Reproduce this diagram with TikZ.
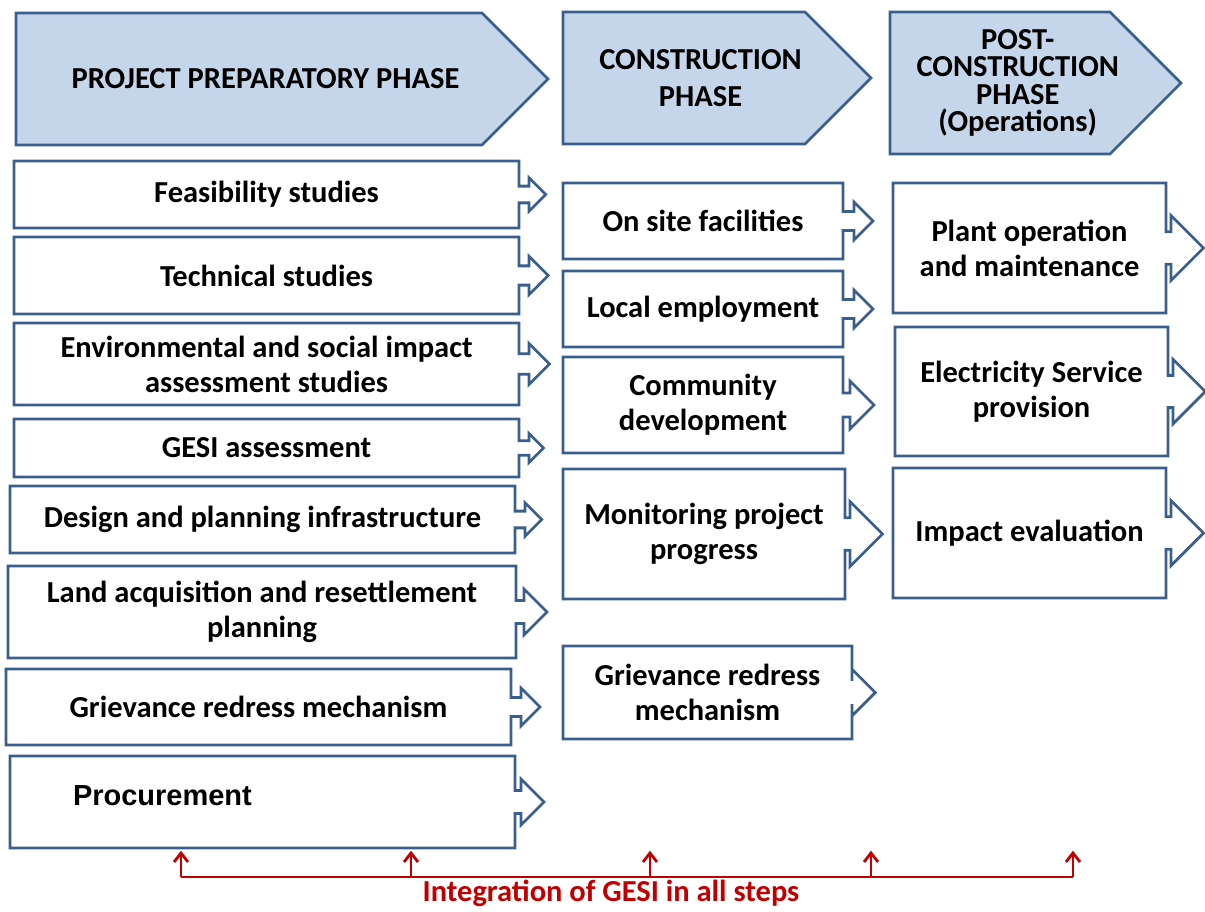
\documentclass[tikz,border=0pt]{standalone}
\usepackage{fontspec}
\setmainfont{Carlito}
\newfontfamily\arialfont{Liberation Sans}
\usetikzlibrary{arrows.meta,backgrounds}

\definecolor{outline}{HTML}{3B5F8C}
\definecolor{headfill}{HTML}{C5D6EB}
\definecolor{gesired}{HTML}{C00000}

\tikzset{
  boxline/.style = {draw=outline, line width=2.8pt, line join=miter},
  task/.style = {outer sep=0pt, inner sep=0pt, align=center,
                 font=\bfseries\fontsize{30.5}{35}\selectfont},
  phase/.style = {outer sep=0pt, inner sep=0pt, align=center,
                  font=\bfseries\fontsize{30.5}{37}\selectfont},
  gesiline/.style = {draw=gesired, line width=2.8pt, line join=miter},
  gesilabel/.style = {text=gesired, inner sep=0pt,
                      font=\bfseries\fontsize{30.5}{34}\selectfont},
}

% box with the little arrow tab on its right side
% [opts]{name}{x,y of top left}{width}{height}{shaft}{text}
\newcommand{\taskbox}[7][]{%
  \node[task, minimum width=#4pt, minimum height=#5pt, anchor=north west, #1]
    (#2) at (#3) {#7};
  \draw[boxline] (#2.north west) -- (#2.north east)
    -- ([yshift={#5pt/8}]#2.east) -- ++(#6pt,0pt) -- ++(0pt,{#5pt/8})
    -- ([xshift={#6pt+#5pt/4}]#2.east)
    -- ([xshift=#6pt,yshift={-#5pt/4}]#2.east) -- ++(0pt,{#5pt/8})
    -- ([yshift={-#5pt/8}]#2.east) -- (#2.south east) -- (#2.south west) -- cycle;
}

% phase banner, pointed on the right
% [opts]{name}{x,y of top left}{body width}{height}{text}
\newcommand{\phasehead}[6][]{%
  \node[phase, minimum width={#4pt+#5pt/4}, minimum height=#5pt,
        anchor=north west, #1] (#2) at (#3) {#6};
  \begin{pgfonlayer}{background}
    \filldraw[boxline, fill=headfill] (#2.north west)
      -- ([xshift={-#5pt/4}]#2.north east) -- ([xshift={#5pt/4}]#2.east)
      -- ([xshift={-#5pt/4}]#2.south east) -- (#2.south west) -- cycle;
  \end{pgfonlayer}
}

\begin{document}
\begin{tikzpicture}[x=1pt, y=-1pt]
  \useasboundingbox (0,0) rectangle (1205,911);

  % phases
  \phasehead{prep}{16,13}{466}{132}{PROJECT PREPARATORY PHASE}
  \phasehead{constr}{563,12}{242}{132}{CONSTRUCTION\\PHASE}
  \phasehead[font=\bfseries\fontsize{30.5}{27.5}\selectfont]{post}{890,12}{220}{142}%
    {POST-\\CONSTRUCTION\\PHASE\\(Operations)}

  % preparatory steps
  \taskbox{feas}{14,161}{505}{67}{10}{Feasibility studies}
  \taskbox{tech}{14,237}{505}{77}{10}{Technical studies}
  \taskbox{esia}{14,323}{505}{82}{10}{Environmental and social impact\\assessment studies}
  \taskbox{gesiass}{14,419}{505}{58}{10}{GESI assessment}
  \taskbox{design}{10,486}{505}{67}{10}{Design and planning infrastructure}
  \taskbox{land}{8,566}{508}{92}{8}{Land acquisition and resettlement\\planning}
  \taskbox{grm}{6,669}{505}{76}{10}{Grievance redress mechanism}
  \taskbox[font=\arialfont\bfseries\fontsize{29}{34}\selectfont,
           text width=379pt, align=left, text depth=13pt]%
    {procure}{10,756}{505}{92}{6}{Procurement}

  % construction steps
  \taskbox{site}{563,183}{280}{76}{11}{On site facilities}
  \taskbox{employ}{563,271}{280}{76}{11}{Local employment}
  \taskbox{commdev}{563,357}{280}{96}{7}{Community\\development}
  \taskbox{monitor}{563,469}{282}{130}{5}{Monitoring project\\progress}
  \taskbox{grmc}{563,646}{289}{93}{0}{Grievance redress\\mechanism}

  % operation steps
  \taskbox{plant}{893,183}{273}{130}{5}{Plant operation\\and maintenance}
  \taskbox{supply}{895,327}{273}{129}{5}{Electricity Service\\provision}
  \taskbox{impact}{893,468}{273}{130}{5}{Impact evaluation}

  % GESI runs through every step: thick open heads drawn as a V
  \foreach \x [count=\i] in {181,411,650,871,1073}{
    \coordinate (foot\i) at (\x,877);
    \coordinate (tip\i) at (\x,853);
    \draw[gesiline] (foot\i) -- (tip\i);
    \draw[gesiline] ([shift={(-7pt,-9pt)}]tip\i) -- (tip\i)
      -- ([shift={(7pt,-9pt)}]tip\i);
  }
  \draw[gesiline] (foot1) -- (foot5);
  \node[gesilabel] (gesi) at (611,893) {Integration of GESI in all steps};
\end{tikzpicture}
\end{document}
